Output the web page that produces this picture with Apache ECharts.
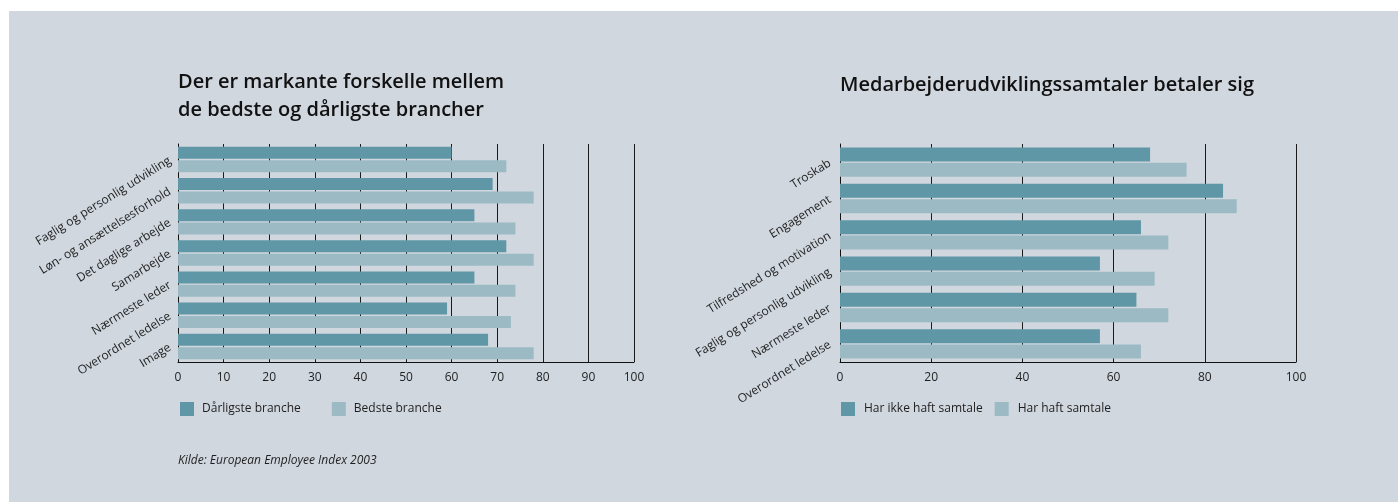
<!DOCTYPE html>
<html>
<head>
<meta charset="utf-8">
<script src="https://cdn.jsdelivr.net/npm/echarts@6/dist/echarts.min.js"></script>
<style>
  html, body { margin: 0; padding: 0; background: #ffffff; }
  #bg { position: absolute; left: 9px; top: 11px; width: 1389px; height: 491px; background: #d0d7df; }
  #chart { position: absolute; left: 0; top: 0; width: 1398px; height: 502px; }
</style>
</head>
<body>
<div id="bg"></div>
<div id="chart"></div>
<script>
// ---- Data ----
const leftTitle = 'Der er markante forskelle mellem\nde bedste og dårligste brancher';
const rightTitle = 'Medarbejderudviklingssamtaler betaler sig';
const leftCategories = ['Faglig og personlig udvikling', 'Løn- og ansættelsesforhold', 'Det daglige arbejde', 'Samarbejde', 'Nærmeste leder', 'Overordnet ledelse', 'Image'];
const leftWorst = [60, 69, 65, 72, 65, 59, 68];
const leftBest = [72, 78, 74, 78, 74, 73, 78];
const leftSeriesNames = ['Dårligste branche', 'Bedste branche'];
const rightCategories = ['Troskab', 'Engagement', 'Tilfredshed og motivation', 'Faglig og personlig udvikling', 'Nærmeste leder', 'Overordnet ledelse'];
const rightNoTalk = [68, 84, 66, 57, 65, 57];
const rightTalk = [76, 87, 72, 69, 72, 66];
const rightSeriesNames = ['Har ikke haft samtale', 'Har haft samtale'];
const sourceText = 'Kilde: European Employee Index 2003';

// ---- Styles ----
const FONT = '"Open Sans", "Noto Sans", sans-serif';
const DARK = '#6097a6';
const LIGHT = '#9bbac4';
const INK = '#1e1e1e';

const chart = echarts.init(document.getElementById('chart'), null, { renderer: 'canvas' });

function xAxisCfg(gridIndex, interval) {
  return {
    type: 'value', gridIndex, min: 0, max: 100, interval,
    axisLine: { show: true, lineStyle: { color: '#111', width: 1 } },
    axisTick: { show: false },
    axisLabel: { color: INK, fontSize: 12, fontFamily: FONT, margin: 10 },
    splitLine: { show: true, lineStyle: { color: '#1a1a1a', width: 1 } }
  };
}
function yAxisCfg(gridIndex, data, margin) {
  return {
    type: 'category', gridIndex, data, inverse: true,
    axisLine: { show: true, lineStyle: { color: '#111', width: 1 } },
    axisTick: { show: false },
    axisLabel: { color: INK, fontSize: 12, fontFamily: FONT, rotate: 32, margin }
  };
}

const titleStyle = { fontSize: 20, fontWeight: 600, color: '#111', lineHeight: 28, fontFamily: FONT };

const option = {
  backgroundColor: 'transparent',
  animation: false,
  textStyle: { fontFamily: FONT },
  title: [
    { text: leftTitle, left: 178, top: 68, padding: 0, textStyle: titleStyle },
    { text: rightTitle, left: 840, top: 71, padding: 0, textStyle: titleStyle }
  ],
  legend: [
    { data: leftSeriesNames, left: 180, top: 402, padding: 0, itemWidth: 14, itemHeight: 14, itemGap: 31, icon: 'rect',
      textStyle: { fontSize: 12, color: INK, fontFamily: FONT, padding: [0, 0, 0, 3] } },
    { data: rightSeriesNames, left: 841, top: 402, padding: 0, itemWidth: 14, itemHeight: 14, itemGap: 12, icon: 'rect',
      textStyle: { fontSize: 12, color: INK, fontFamily: FONT, padding: [0, 0, 0, 4] } }
  ],
  grid: [
    { left: 178, top: 144, width: 456, height: 218 },
    { left: 840, top: 144, width: 456, height: 218 }
  ],
  xAxis: [xAxisCfg(0, 10), xAxisCfg(1, 20)],
  yAxis: [yAxisCfg(0, leftCategories, 8), yAxisCfg(1, rightCategories, 10)],
  series: [
    { name: leftSeriesNames[0], type: 'bar', xAxisIndex: 0, yAxisIndex: 0, data: leftWorst,
      barWidth: 12, barGap: '12%', itemStyle: { color: DARK } },
    { name: leftSeriesNames[1], type: 'bar', xAxisIndex: 0, yAxisIndex: 0, data: leftBest,
      barWidth: 12, barGap: '12%', itemStyle: { color: LIGHT } },
    { name: rightSeriesNames[0], type: 'bar', xAxisIndex: 1, yAxisIndex: 1, data: rightNoTalk,
      barWidth: 14, barGap: '10%', itemStyle: { color: DARK } },
    { name: rightSeriesNames[1], type: 'bar', xAxisIndex: 1, yAxisIndex: 1, data: rightTalk,
      barWidth: 14, barGap: '10%', itemStyle: { color: LIGHT } }
  ],
  graphic: [
    { type: 'text', left: 178, top: 455,
      style: { text: sourceText, fontSize: 12, fontStyle: 'italic', fill: INK, fontFamily: FONT } }
  ]
};
chart.setOption(option);
</script>
</body>
</html>
